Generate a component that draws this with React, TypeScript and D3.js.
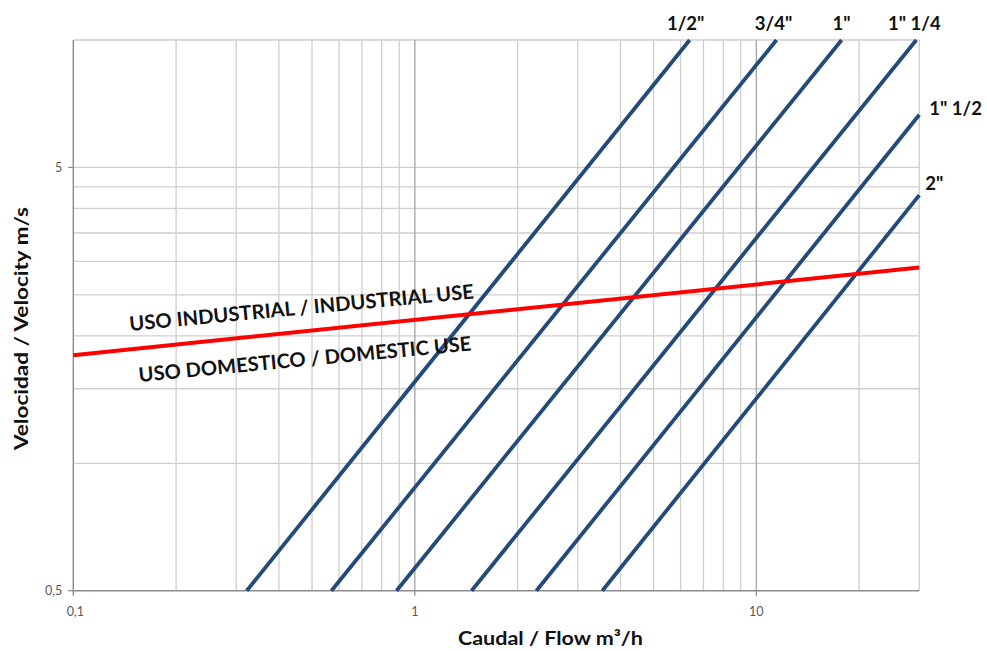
import React from 'react';
import * as d3 from 'd3';

// ---- Data ----
const pipeNames = ['1/2"', '3/4"', '1"', '1" 1/4', '1" 1/2', '2"'];
const pipeFlowStart = [0.322, 0.57, 0.884, 1.466, 2.27, 3.54];
const pipeVelStart = [0.5, 0.5, 0.5, 0.5, 0.5, 0.5];
const pipeFlowEnd = [6.38, 11.46, 17.77, 29.4, 30, 30];
const pipeVelEnd = [10, 10, 10, 10, 6.66, 4.3];

const limitFlow = [0.1, 30];
const limitVel = [1.8, 2.9];
const limitLabelUpper = 'USO INDUSTRIAL / INDUSTRIAL USE';
const limitLabelLower = 'USO DOMESTICO / DOMESTIC USE';

const xTickValues = [0.1, 1, 10];
const xTickLabels = ['0,1', '1', '10'];
const yTickValues = [0.5, 5];
const yTickLabels = ['0,5', '5'];
const xMinorGrid = [0.2, 0.3, 0.4, 0.5, 0.6, 0.7, 0.8, 0.9, 2, 3, 4, 5, 6, 7, 8, 9, 20, 30];
const xMajorGrid = [1, 10];
const yGrid = [1, 1.5, 2, 2.5, 3, 3.5, 4, 4.5, 5, 10];

const xTitle = 'Caudal  / Flow m³/h';
const yTitle = 'Velocidad / Velocity m/s';

// ---- Layout ----
const W = 987;
const H = 651;
const left = 73.3;
const right = 919.3;
const top = 40;
const bottom = 590.7;
const FONT = "Lato, 'Open Sans', 'DejaVu Sans', sans-serif";
const PIPE_COLOR = '#244a7a';

// label offsets relative to each pipe line's end point
const pipeLabelLayout = [
  { dx: -4, dy: -10, anchor: 'middle' },
  { dx: -3, dy: -10, anchor: 'middle' },
  { dx: 0, dy: -10, anchor: 'middle' },
  { dx: -2, dy: -10, anchor: 'middle' },
  { dx: 10, dy: 0, anchor: 'start' },
  { dx: 6, dy: -5, anchor: 'start' },
];

export default function App() {
  const x = d3.scaleLog().domain([0.1, 30]).range([left, right]);
  const y = d3.scaleLog().domain([0.5, 10]).range([bottom, top]);
  const line = d3
    .line<[number, number]>()
    .x((d) => x(d[0]))
    .y((d) => y(d[1]));

  const lx0 = x(limitFlow[0]);
  const ly0 = y(limitVel[0]);
  const lx1 = x(limitFlow[1]);
  const ly1 = y(limitVel[1]);
  const limitAt = (px: number) => ly0 + ((px - lx0) / (lx1 - lx0)) * (ly1 - ly0);
  const angle = -5.4;
  const upX = 130;
  const upY = limitAt(upX) - 18.4;
  const loX = 139.3;
  const loY = limitAt(loX) + 33.5;

  return (
    <svg
      width={W}
      height={H}
      style={{ position: 'absolute', left: 0, top: 0, background: '#fff' }}
      fontFamily={FONT}
    >
      <rect x={0} y={0} width={W} height={H} fill="#fff" />
      {/* grid */}
      {xMinorGrid.map((v) => (
        <line key={'xg' + v} x1={x(v)} x2={x(v)} y1={top} y2={bottom} stroke="#cfcfcf" strokeWidth={1.3} />
      ))}
      {yGrid.map((v) => (
        <line key={'yg' + v} x1={left} x2={right} y1={y(v)} y2={y(v)} stroke="#cfcfcf" strokeWidth={1.3} />
      ))}
      {xMajorGrid.map((v) => (
        <line key={'xm' + v} x1={x(v)} x2={x(v)} y1={top} y2={bottom} stroke="#a9a9a9" strokeWidth={1.4} />
      ))}
      {/* axes */}
      <line x1={left} x2={left} y1={top} y2={bottom} stroke="#8c8c8c" strokeWidth={1.4} />
      <line x1={left} x2={right} y1={bottom} y2={bottom} stroke="#8c8c8c" strokeWidth={1.4} />
      {yTickValues.map((v, i) => (
        <g key={'yt' + v}>
          <line x1={left - 5} x2={left} y1={y(v)} y2={y(v)} stroke="#8c8c8c" strokeWidth={1.3} />
          <text x={left - 11} y={y(v)} dy="0.35em" textAnchor="end" fontSize={12.5} fill="#595959">
            {yTickLabels[i]}
          </text>
        </g>
      ))}
      {xTickValues.map((v, i) => (
        <g key={'xt' + v}>
          <line x1={x(v)} x2={x(v)} y1={bottom} y2={bottom + 5} stroke="#8c8c8c" strokeWidth={1.3} />
          <text x={x(v) + (i === 0 ? 2 : 0)} y={bottom + 25} textAnchor="middle" fontSize={12.5} fill="#595959">
            {xTickLabels[i]}
          </text>
        </g>
      ))}
      {/* pipe lines */}
      {pipeNames.map((name, i) => {
        const pts: [number, number][] = [
          [pipeFlowStart[i], pipeVelStart[i]],
          [pipeFlowEnd[i], pipeVelEnd[i]],
        ];
        return (
          <path key={'p' + name} d={line(pts) || ''} fill="none" stroke={PIPE_COLOR} strokeWidth={3.8} />
        );
      })}
      {/* limit line */}
      <path
        d={line([[limitFlow[0], limitVel[0]], [limitFlow[1], limitVel[1]]]) || ''}
        fill="none"
        stroke="#ff0000"
        strokeWidth={4}
      />
      {/* pipe labels */}
      {pipeNames.map((name, i) => {
        const L = pipeLabelLayout[i];
        return (
          <text
            key={'pl' + name}
            x={x(pipeFlowEnd[i]) + L.dx}
            y={y(pipeVelEnd[i]) + L.dy}
            textAnchor={L.anchor as any}
            fontSize={18.5}
            fontWeight="bold"
            fill="#111"
          >
            {name}
          </text>
        );
      })}
      {/* limit labels */}
      <text
        x={upX}
        y={upY}
        transform={`rotate(${angle} ${upX} ${upY})`}
        fontSize={20}
        fontWeight="bold"
        fill="#111"
        textLength={346}
        lengthAdjust="spacingAndGlyphs"
      >
        {limitLabelUpper}
      </text>
      <text
        x={loX}
        y={loY}
        transform={`rotate(${angle} ${loX} ${loY})`}
        fontSize={20}
        fontWeight="bold"
        fill="#111"
        textLength={334}
        lengthAdjust="spacingAndGlyphs"
      >
        {limitLabelLower}
      </text>
      {/* axis titles */}
      <text
        x={458}
        y={645}
        fontSize={18.5}
        fontWeight="bold"
        fill="#111"
        textLength={185}
        lengthAdjust="spacingAndGlyphs"
      >
        {xTitle}
      </text>
      <text
        transform={`translate(28, 450) rotate(-90)`}
        fontSize={18.5}
        fontWeight="bold"
        fill="#111"
        textLength={243}
        lengthAdjust="spacingAndGlyphs"
      >
        {yTitle}
      </text>
    </svg>
  );
}
